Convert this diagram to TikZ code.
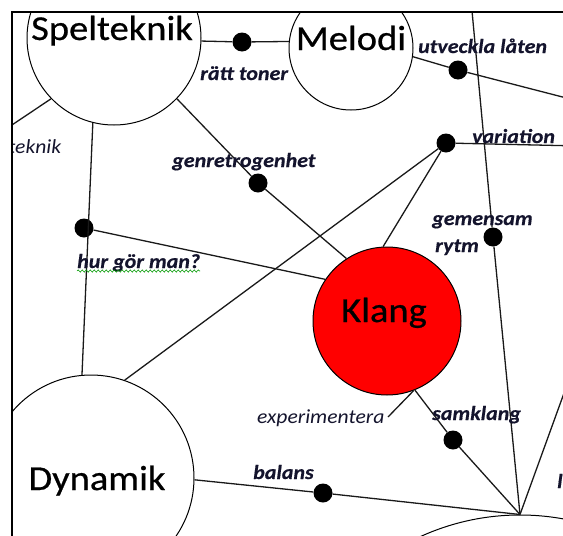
\documentclass[tikz,border=0pt]{standalone}
\usepackage{fontspec}
\setmainfont{Carlito}
\newfontfamily\mainf[FakeStretch=1.1,FakeBold=0.6]{Carlito}
\newfontfamily\labf[FakeStretch=1.1,FakeBold=0.4]{Carlito}
\newfontfamily\labrf[FakeStretch=1.08]{Carlito}
\usetikzlibrary{decorations.pathmorphing}
\definecolor{labcol}{RGB}{20,20,45}
\definecolor{klangred}{RGB}{255,0,0}
\begin{document}
\begin{tikzpicture}[x=1pt,y=-1pt,
  bubble/.style={circle,draw=black,line width=1pt,fill=white,inner sep=0pt},
  dot/.style={circle,fill=black,inner sep=0pt,minimum size=19pt},
  conn/.style={draw=black!90,line width=1.3pt},
  lab/.style={font=\labf\fontsize{20}{22}\selectfont\bfseries\itshape,text=labcol,inner sep=0pt,anchor=base west},
  labr/.style={font=\labrf\fontsize{20}{22}\selectfont\itshape,text=labcol,inner sep=0pt,anchor=base west},
  big/.style={font=\mainf\fontsize{35}{40}\selectfont,inner sep=0pt,anchor=base}]
\useasboundingbox (0,0) rectangle (563,536);
\begin{scope}
\clip (12,12) rectangle (563,536);
% circles
\node[bubble,minimum size=174pt] (spel) at (114,38) {};
\node[bubble,minimum size=124pt] (mel) at (351,48) {};
\node[bubble,minimum size=148pt,fill=klangred] (klang) at (387,321) {};
\node[bubble,minimum size=206pt] (dyn) at (91,478) {};
\node[bubble,minimum size=480pt] (bot) at (520,755) {};
% dots
\node[dot] (d1) at (242,42) {};
\node[dot] (d2) at (458,70) {};
\node[dot] (d3) at (446,143) {};
\node[dot] (d4) at (258,183) {};
\node[dot] (d5) at (84,228) {};
\node[dot] (d6) at (493,237) {};
\node[dot] (d7) at (453,440) {};
\node[dot] (d8) at (323,493) {};
% free ends
\coordinate (ctop) at (471,0);
\coordinate (cr1) at (580,101.5);
\coordinate (cr2) at (580,146);
\coordinate (cr3) at (580,349);
\coordinate (cl) at (0,133);
\coordinate (cexp) at (388,417);
% connectors
\draw[conn] (spel.-2.6) -- (d1) -- (mel.174.5);
\draw[conn] (mel.-8.3) -- (d2) -- (cr1);
\draw[conn] (d3) -- (cr2);
\draw[conn] (d3) -- (dyn.71.6);
\draw[conn] (d3) -- (klang.93);
\draw[conn] (spel.-44.5) -- (d4) -- (klang.123.7);
\draw[conn] (spel.-104) -- (dyn.95);
\draw[conn] (spel.-136) -- (cl);
\draw[conn] (d5) -- (klang.146.5);
\draw[conn] (ctop) -- (d6) -- (bot.north);
\draw[conn] (klang.-69) -- (cexp);
\draw[conn] (klang.-68) -- (d7) -- (bot.north);
\draw[conn] (dyn.-1) -- (d8) -- (bot.north);
\draw[conn] (bot.north) -- (cr3);
% main texts
\node[big] (tspel) at (112,40) {Spelteknik};
\node[big] (tmel) at (351,50) {Melodi};
\node[big] (tklang) at (384,322) {Klang};
\node[big] (tdyn) at (97,490) {Dynamik};
% labels
\node[lab] (l1) at (200,80) {rätt toner};
\node[lab] (l2) at (418,53) {utveckla låten};
\node[lab] (l3) at (472,143) {variation};
\node[lab] (l4) at (172,167) {genretrogenhet};
\node[lab] (l5) at (432,225) {gemensam};
\node[lab] (l6) at (435,252) {rytm};
\node[lab] (l7) at (77,268) {hur gör man?};
\node[labr] (l8) at (257,423) {experimentera};
\node[lab] (l9) at (432,420) {samklang};
\node[lab] (l10) at (253,479) {balans};
\node[labr] (l11) at (8,153) {teknik};
\node[lab] (l12) at (557,488) {l};
\draw[green!60!black,line width=0.6pt,decorate,decoration={snake,amplitude=1.1pt,segment length=4pt}] (l7.base west)++(0,3) -- ++(123,0);
\end{scope}
\draw[line width=1.3pt] (12,536) -- (12,12) -- (563,12);
\end{tikzpicture}
\end{document}
